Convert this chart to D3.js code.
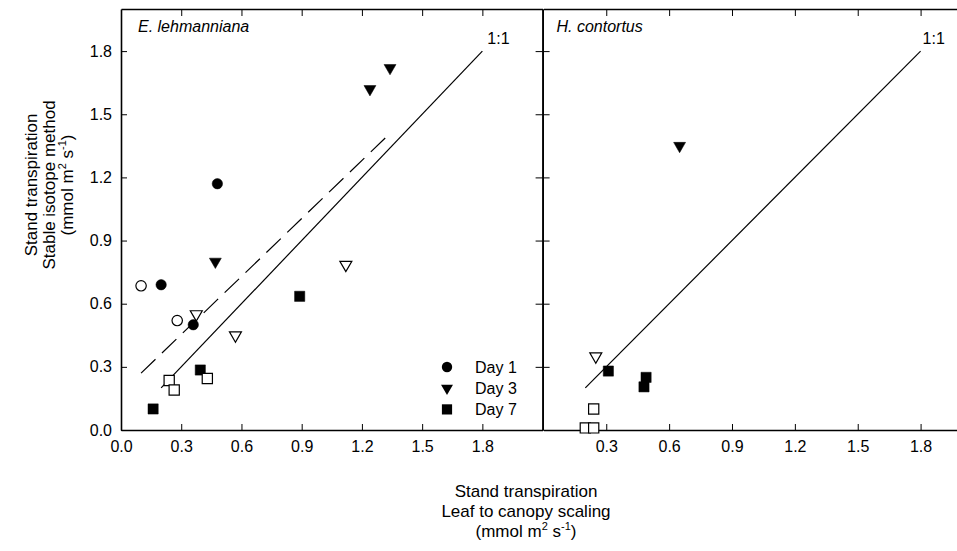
<!DOCTYPE html>
<html>
<head>
<meta charset="utf-8">
<script src="https://cdn.jsdelivr.net/npm/d3@7"></script>
<style>
  body { margin: 0; background: #fff; }
  text { font-family: Arial, "Liberation Sans", sans-serif; fill: #000; }
</style>
</head>
<body>
<script>
// tick values
var yTicks = [0, 0.3, 0.6, 0.9, 1.2, 1.5, 1.8];
var leftXTicks = [0, 0.3, 0.6, 0.9, 1.2, 1.5, 1.8];
var rightXTicks = [0.3, 0.6, 0.9, 1.2, 1.5, 1.8];

// E. lehmanniana  [leaf-to-canopy, stable isotope]
var elDay1Filled = [[0.48, 1.17], [0.20, 0.69], [0.36, 0.50]];
var elDay1Open = [[0.10, 0.685], [0.28, 0.52]];
var elDay3Filled = [[1.24, 1.62], [1.34, 1.72], [0.47, 0.80]];
var elDay3Open = [[1.12, 0.785], [0.375, 0.55], [0.57, 0.45]];
var elDay7Filled = [[0.89, 0.635], [0.395, 0.285], [0.16, 0.10]];
var elDay7Open = [[0.43, 0.245], [0.24, 0.235], [0.265, 0.19]];
var elFit = [[0.10, 0.27], [1.33, 1.40]];

// H. contortus
var hcDay3Filled = [[0.65, 1.35]];
var hcDay3Open = [[0.25, 0.35]];
var hcDay7Filled = [[0.31, 0.28], [0.49, 0.25], [0.48, 0.205]];
var hcDay7Open = [[0.24, 0.10], [0.20, 0.01], [0.24, 0.01]];

var oneToOne = [[0.2, 0.2], [1.8, 1.8]];
var legendDays = ["Day 1", "Day 3", "Day 7"];

var width = 957, height = 551;
var plotTop = 9, plotBottom = 430;

var svg = d3.select("body").append("svg")
    .attr("width", width)
    .attr("height", height);

var y = d3.scaleLinear().domain([0, 2.0]).range([plotBottom, plotTop]);
var xL = d3.scaleLinear().domain([0, 2.1]).range([121, 542.6]);
var xR = d3.scaleLinear().domain([0, 2.0]).range([543.4, 962.5]);

var symCircle = d3.symbol().type(d3.symbolCircle).size(85);
var symTri = d3.symbol().type(d3.symbolTriangle).size(62);
var symSquare = d3.symbol().type(d3.symbolSquare).size(104);

function styleAxis(g) {
  g.selectAll(".domain").attr("stroke-width", 1.6);
  g.selectAll(".tick line").attr("stroke-width", 1);
  g.selectAll("text").attr("font-size", "16px").attr("font-family", "Arial, 'Liberation Sans', sans-serif");
}

// axes
svg.append("g")
    .attr("transform", "translate(0," + plotBottom + ")")
    .call(d3.axisBottom(xL).tickValues(leftXTicks).tickFormat(d3.format(".1f"))
      .tickSizeInner(-6).tickSizeOuter(0).tickPadding(11))
    .call(styleAxis);
svg.append("g")
    .attr("transform", "translate(0," + plotBottom + ")")
    .call(d3.axisBottom(xR).tickValues(rightXTicks).tickFormat(d3.format(".1f"))
      .tickSizeInner(-6).tickSizeOuter(0).tickPadding(11))
    .call(styleAxis);
svg.append("g")
    .attr("transform", "translate(0," + plotTop + ")")
    .call(d3.axisTop(xL).tickValues(leftXTicks.slice(1)).tickFormat("")
      .tickSizeInner(-7).tickSizeOuter(0))
    .call(styleAxis);
svg.append("g")
    .attr("transform", "translate(0," + plotTop + ")")
    .call(d3.axisTop(xR).tickValues(rightXTicks).tickFormat("")
      .tickSizeInner(-7).tickSizeOuter(0))
    .call(styleAxis);
svg.append("g")
    .attr("transform", "translate(" + xL(0) + ",0)")
    .call(d3.axisLeft(y).tickValues(yTicks).tickFormat(d3.format(".1f"))
      .tickSizeInner(-6).tickSizeOuter(0).tickPadding(9))
    .call(styleAxis);
svg.append("g")
    .attr("transform", "translate(" + xL(2.1) + ",0)")
    .call(d3.axisRight(y).tickValues(yTicks.slice(1)).tickFormat("")
      .tickSizeInner(-7).tickSizeOuter(0))
    .call(styleAxis);
svg.append("g")
    .attr("transform", "translate(" + xL(2.1) + ",0)")
    .call(d3.axisLeft(y).tickValues(yTicks.slice(1)).tickFormat("")
      .tickSizeInner(-7).tickSizeOuter(0))
    .call(styleAxis);

// 1:1 and fitted lines
function drawLine(xs, pts, dash) {
  svg.append("path")
      .datum(pts)
      .attr("fill", "none")
      .attr("stroke", "#000")
      .attr("stroke-width", 1.2)
      .attr("stroke-dasharray", dash || null)
      .attr("d", d3.line().x(function (d) { return xs(d[0]); }).y(function (d) { return y(d[1]); }));
}
drawLine(xL, oneToOne);
drawLine(xL, elFit, "20,9");
drawLine(xR, oneToOne);

svg.append("text").attr("x", xL(1.8) + 5).attr("y", y(1.8) - 7).attr("font-size", "16px").text("1:1");
svg.append("text").attr("x", xR(1.8) + 2).attr("y", y(1.8) - 7).attr("font-size", "16px").text("1:1");

// points
function drawPoints(xs, data, sym, filled, rot) {
  svg.append("g").selectAll("path")
      .data(data)
      .enter().append("path")
      .attr("d", sym)
      .attr("transform", function (d) {
        return "translate(" + xs(d[0]) + "," + y(d[1]) + ")" + (rot ? " rotate(180)" : "");
      })
      .attr("fill", filled ? "#000" : "#fff")
      .attr("stroke", "#000")
      .attr("stroke-width", filled ? 0.5 : 1.2);
}
drawPoints(xL, elDay3Open, symTri, false, true);
drawPoints(xL, elDay7Filled, symSquare, true);
drawPoints(xL, elDay7Open, symSquare, false);
drawPoints(xL, elDay1Open, symCircle, false);
drawPoints(xL, elDay3Filled, symTri, true, true);
drawPoints(xL, elDay1Filled, symCircle, true);

drawPoints(xR, hcDay3Open, symTri, false, true);
drawPoints(xR, hcDay7Filled, symSquare, true);
drawPoints(xR, hcDay7Open, symSquare, false);
drawPoints(xR, hcDay3Filled, symTri, true, true);

// legend
var legendSyms = [symCircle, symTri, symSquare];
var legend = svg.append("g").selectAll("g")
    .data(legendDays)
    .enter().append("g")
    .attr("transform", function (d, i) { return "translate(447," + (367 + i * 21.2) + ")"; });
legend.append("path")
    .attr("d", function (d, i) { return legendSyms[i](); })
    .attr("transform", function (d, i) { return i === 1 ? "rotate(180)" : null; })
    .attr("fill", "#000");
legend.append("text")
    .attr("x", 28)
    .attr("dy", "0.36em")
    .attr("font-size", "16px")
    .text(function (d) { return d; });

// panel labels
svg.append("text").attr("x", 138).attr("y", 32).attr("font-size", "16px")
    .attr("font-style", "italic").text("E. lehmanniana");
svg.append("text").attr("x", 556.5).attr("y", 32).attr("font-size", "16px")
    .attr("font-style", "italic").text("H. contortus");

// axis titles
function unitLine(t) {
  t.append("tspan").text("(mmol m");
  t.append("tspan").attr("dy", -7).attr("font-size", "11px").text("2");
  t.append("tspan").attr("dy", 7).text(" s");
  t.append("tspan").attr("dy", -7).attr("font-size", "11px").text("-1");
  t.append("tspan").attr("dy", 7).text(")");
}

var xt = svg.append("g").attr("text-anchor", "middle");
xt.append("text").attr("x", 526).attr("y", 497).attr("font-size", "17px").text("Stand transpiration");
xt.append("text").attr("x", 526).attr("y", 517).attr("font-size", "17px").text("Leaf to canopy scaling");
xt.append("text").attr("x", 526).attr("y", 537).attr("font-size", "17px").call(unitLine);

var yt = svg.append("g").attr("text-anchor", "middle")
    .attr("transform", "translate(0,185) rotate(-90)");
yt.append("text").attr("x", 0).attr("y", 37).attr("font-size", "17px").text("Stand transpiration");
yt.append("text").attr("x", 0).attr("y", 55).attr("font-size", "17px").text("Stable isotope method");
yt.append("text").attr("x", 0).attr("y", 73).attr("font-size", "17px").call(unitLine);
</script>
</body>
</html>
